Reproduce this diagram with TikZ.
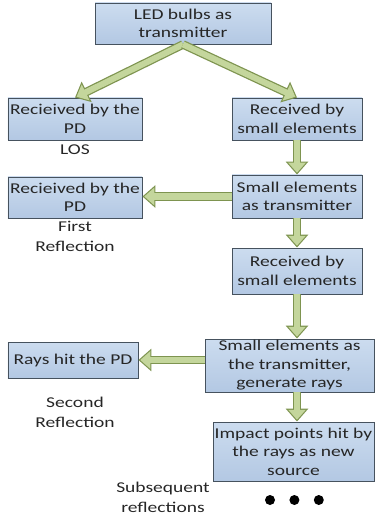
\documentclass[tikz,border=0pt]{standalone}
\usepackage{fontspec}
\setmainfont{Carlito}[FakeStretch=1.3]
\usepackage{tikz}
\usetikzlibrary{arrows.meta,positioning}
\definecolor{box_top}{HTML}{CCDCEF}
\definecolor{box_bottom}{HTML}{B3C8E3}
\definecolor{box_line}{HTML}{46525E}
\definecolor{arrow_fill}{HTML}{C4D69C}
\definecolor{arrow_line}{HTML}{7E9450}
\definecolor{text_gray}{HTML}{262626}
\tikzset{
flow_box/.style={rectangle, draw=box_line, line width=0.9bp, top color=box_top, bottom color=box_bottom, text=text_gray, align=center, inner sep=1bp, font=\fontsize{15bp}{18.5bp}\selectfont},
flow_arrow/.style={draw=arrow_line, line width=8.5bp, -{Triangle[length=13bp,width=22bp]}, postaction={draw=arrow_fill, line width=6bp, shorten >=1.8bp, -{Triangle[length=10bp,width=17bp]}}},
note_text/.style={text=text_gray, align=center, inner sep=0pt, font=\fontsize{15bp}{20bp}\selectfont},
dot/.style={circle, fill=black, inner sep=0pt, minimum size=10bp}
}

\begin{document}
\begin{tikzpicture}[x=1bp, y=-1bp]
    \useasboundingbox (0,0) rectangle (376,517);
    % boxes
    \node[flow_box, minimum width=176bp, minimum height=41bp] (led_tx) at (183,23.5) {LED bulbs as\\transmitter};
    \node[flow_box, minimum width=134bp, minimum height=42bp] (pd_1) at (75,119) {Recieived by the\\PD};
    \node[flow_box, minimum width=130bp, minimum height=42bp] (small_rx_1) at (297,119) {Received by\\small elements};
    \node[flow_box, minimum width=130bp, minimum height=43bp] (small_tx_1) at (297,196.5) {Small elements\\as transmitter};
    \node[flow_box, minimum width=134bp, minimum height=41bp] (pd_2) at (75,197.5) {Recieived by the\\PD};
    \node[flow_box, minimum width=130bp, minimum height=46bp] (small_rx_2) at (297,271) {Received by\\small elements};
    \node[flow_box, minimum width=169bp, minimum height=53bp] (small_tx_2) at (289.5,365.5) {Small elements as\\the transmitter,\\generate rays};
    \node[flow_box, minimum width=130bp, minimum height=36bp] (rays_pd) at (73,360) {Rays hit the PD};
    \node[flow_box, minimum width=161bp, minimum height=59bp] (impact) at (293.5,451.5) {Impact points hit by\\the rays as new\\source};
    % labels
    \node[note_text] (los) [below=4bp of pd_1] {LOS};
    \node[note_text] (first_refl) [below=3bp of pd_2] {First\\Reflection};
    \node[note_text] (second_refl) at (75,412) {Second\\Reflection};
    \node[note_text] (subseq_refl) at (163,497) {Subsequent\\reflections};
    \node[dot] (dot_1) at (270,500) {};
    \node[dot] (dot_2) [right=14bp of dot_1] {};
    \node[dot] (dot_3) [right=14bp of dot_2] {};
    % arrows
    \draw[flow_arrow] (led_tx.south) -- (pd_1.north);
    \draw[flow_arrow] (led_tx.south) -- (small_rx_1.north);
    \draw[flow_arrow] (small_rx_1.south) -- (small_tx_1.north);
    \draw[flow_arrow] (small_tx_1.west) -- (pd_2.east |- small_tx_1.west);
    \draw[flow_arrow] (small_tx_1.south) -- (small_rx_2.north);
    \draw[flow_arrow] (small_rx_2.south) -- (small_rx_2.south |- small_tx_2.north);
    \draw[flow_arrow] (rays_pd.east -| small_tx_2.west) -- (rays_pd.east);
    \draw[flow_arrow] (small_rx_2.south |- small_tx_2.south) -- (small_rx_2.south |- impact.north);
\end{tikzpicture}
\end{document}
